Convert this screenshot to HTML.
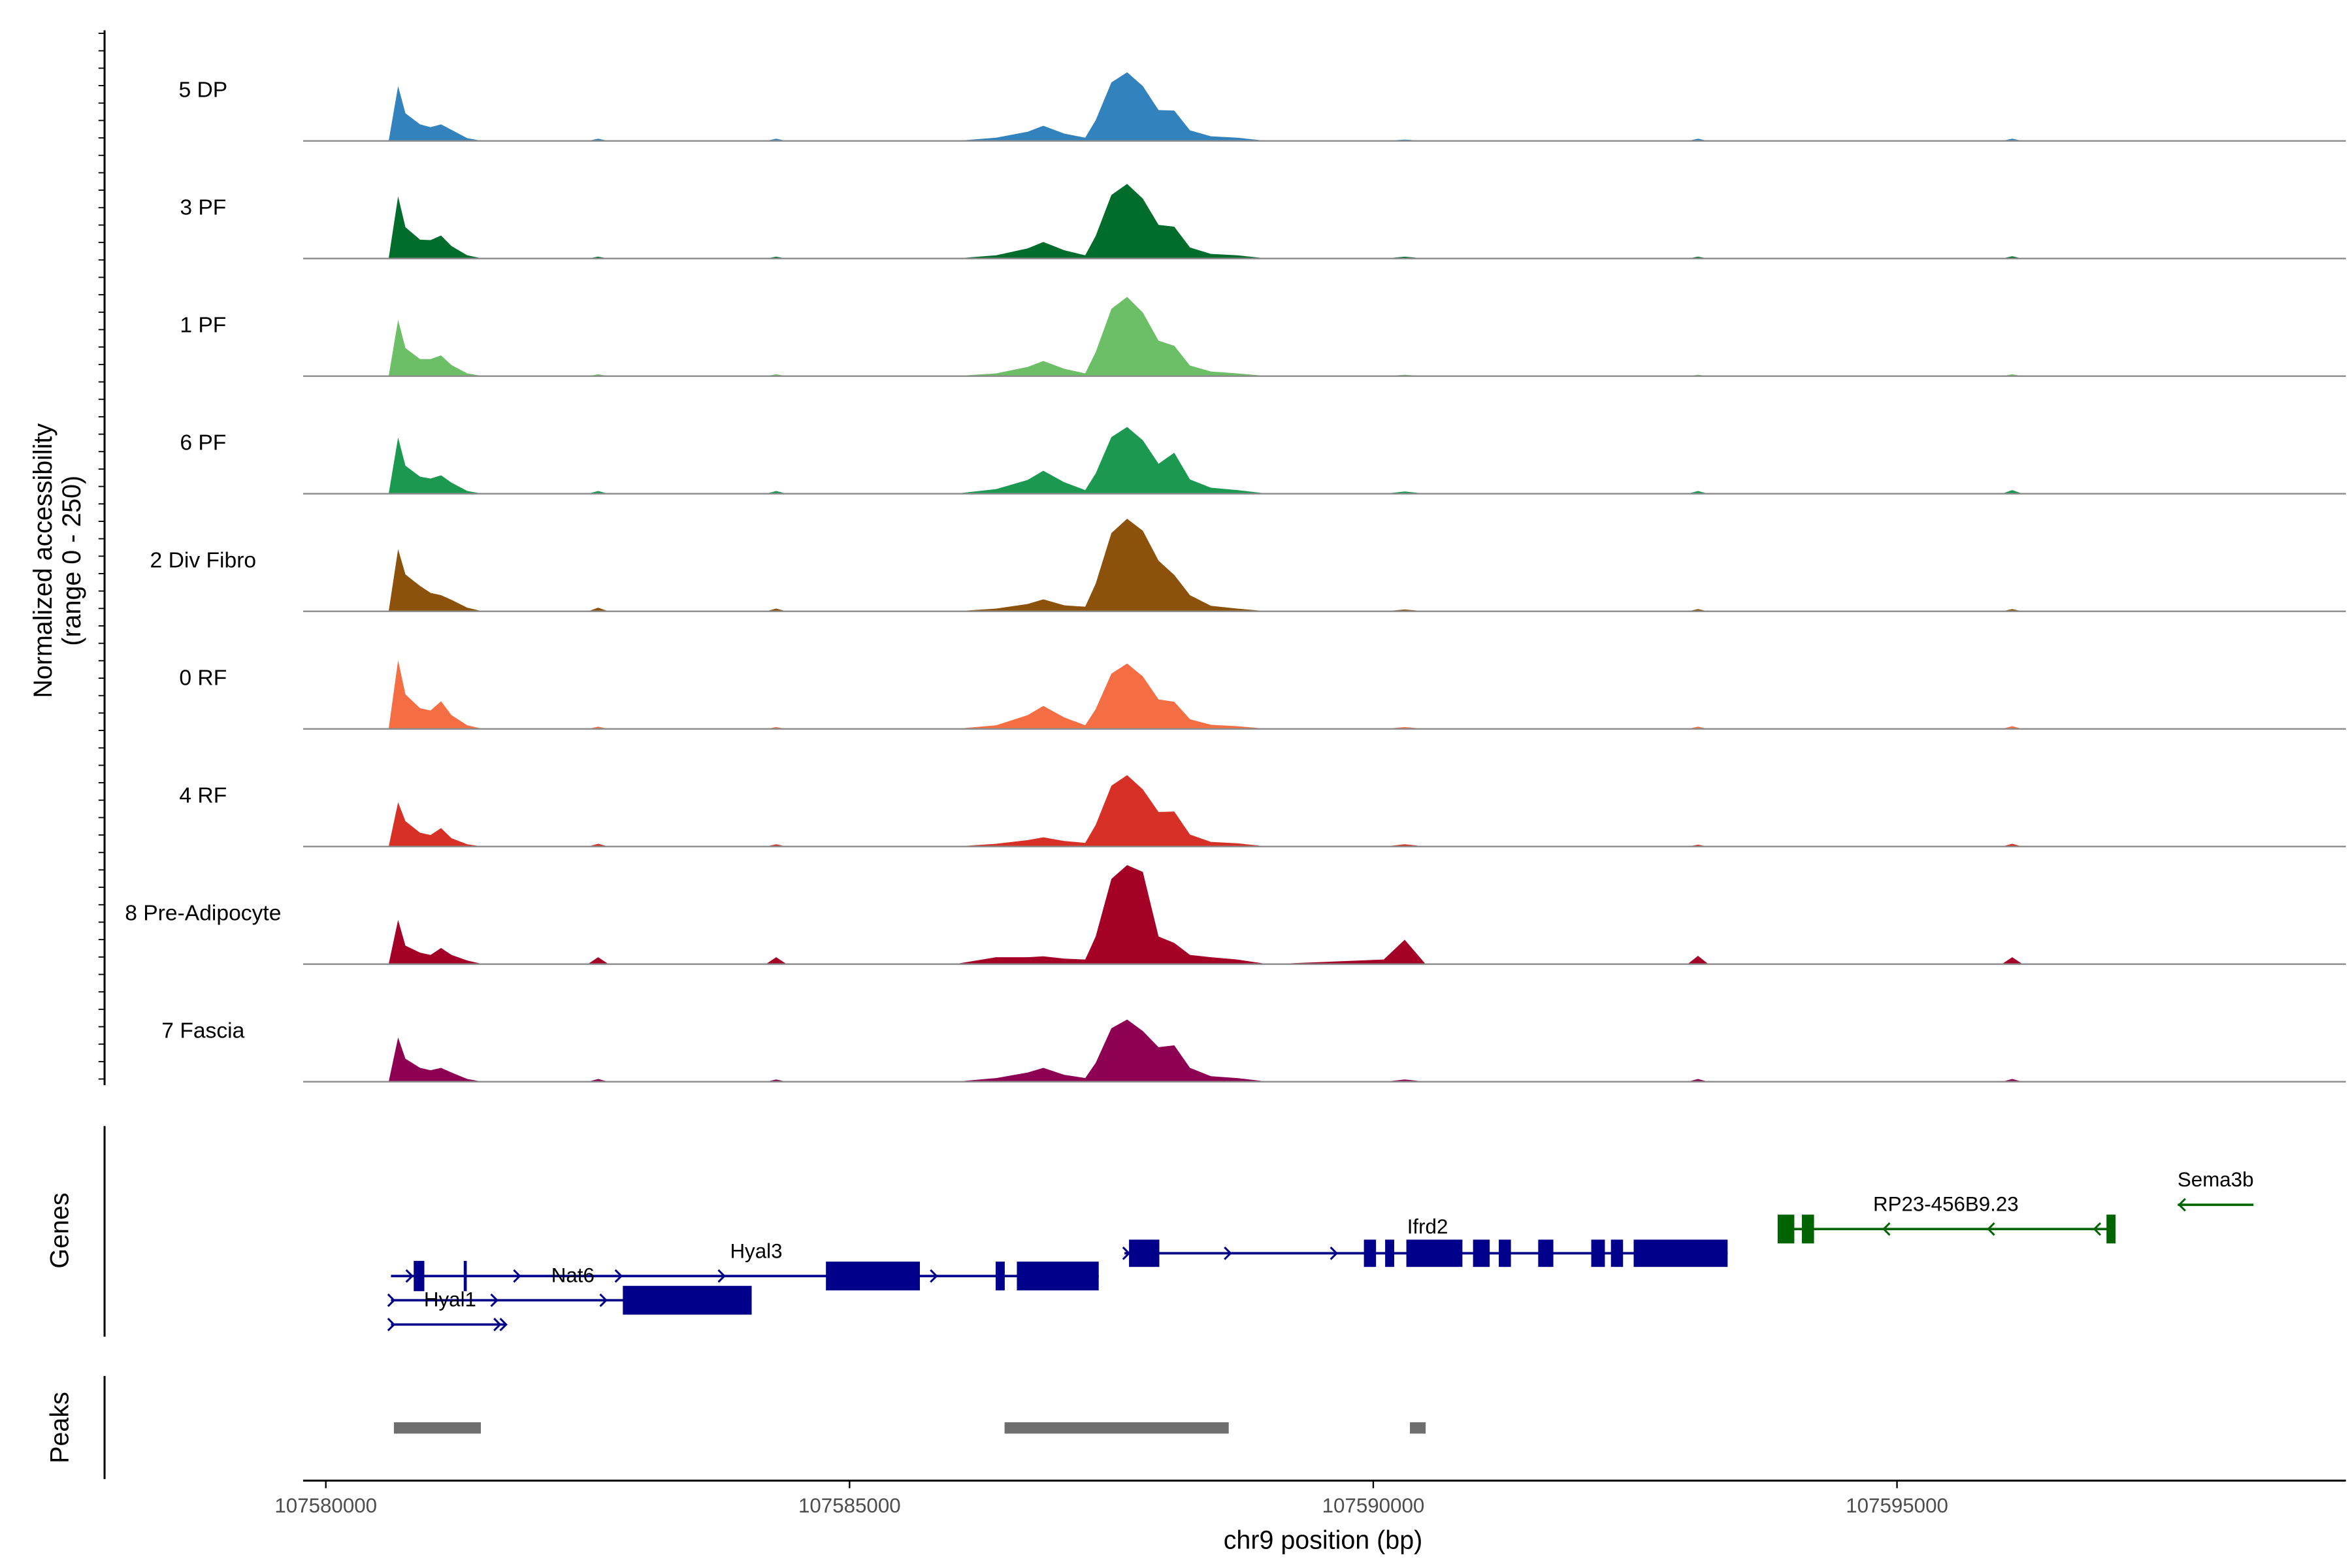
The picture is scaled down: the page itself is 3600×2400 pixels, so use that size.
<!DOCTYPE html>
<html><head><meta charset="utf-8"><style>html,body{margin:0;padding:0;background:#fff}svg{display:block}</style></head>
<body>
<svg id="chart" xmlns="http://www.w3.org/2000/svg" width="3600" height="2400" viewBox="0 0 1552 1034.67" font-family="Liberation Sans, sans-serif">
<rect width="1552" height="1034.67" fill="#fff"/>
<g id="tracks"></g>
<line x1="69" y1="20" x2="69" y2="716" stroke="#000" stroke-width="1.3"/>
<g id="yticks"></g>
<text transform="translate(34,370) rotate(-90)" text-anchor="middle" font-size="17">Normalized accessibility</text>
<text transform="translate(53,370) rotate(-90)" text-anchor="middle" font-size="17">(range 0 - 250)</text>
<line x1="69" y1="743" x2="69" y2="882" stroke="#000" stroke-width="1.3"/>
<text transform="translate(45,812) rotate(-90)" text-anchor="middle" font-size="17">Genes</text>
<line x1="69" y1="908" x2="69" y2="976" stroke="#000" stroke-width="1.3"/>
<text transform="translate(45,942) rotate(-90)" text-anchor="middle" font-size="17">Peaks</text>
<g id="genes"></g>
<g id="peaks"></g>
<line x1="200" y1="977" x2="1548" y2="977" stroke="#000" stroke-width="1.3"/>
<g id="xticks"></g>
<text x="873" y="1022" text-anchor="middle" font-size="17">chr9 position (bp)</text>
</svg>
<script>
const regionStart = 107579783;
const regionEnd = 107599286;
const xTickValues = [107580000, 107585000, 107590000, 107595000];
const trackNames = ["5 DP","3 PF","1 PF","6 PF","2 Div Fibro","0 RF","4 RF","8 Pre-Adipocyte","7 Fascia"];
const trackColors = ["#3182bd","#006d2c","#6cbf66","#1b9950","#8c510a","#f46d43","#d73027","#a50026","#8e0152"];
const binOffsets = [600,690,760,900,1000,1100,1200,1350,1500, 2500,2600,2700, 4200,4300,4400, 6000,6400,6700,6850,7050,7250,7350,7500,7650,7800,7950,8100,8250,8450,8700,9000, 10100,10300,10500, 13000,13100,13200, 16000,16100,16200];
const dp5 = [0,119,60,36,30,36,24,6,0, 0,5,0, 0,5,0, 0,7,20,33,16,7,45,127,149,119,67,66,23,10,7,0, 0,3,0, 0,5,0, 0,5,0];
const pf3 = [0,135,68,41,40,50,27,7,0, 0,4,0, 0,4,0, 0,7,22,36,18,7,49,138,162,130,73,69,24,10,7,0, 0,4,0, 0,4,0, 0,5,0];
const pf1 = [0,122,61,37,37,45,24,6,0, 0,4,0, 0,4,0, 0,6,20,33,16,6,52,146,172,138,77,66,23,10,6,0, 0,3,0, 0,3,0, 0,4,0];
const pf6 = [0,122,61,37,33,40,24,6,0, 0,6,0, 0,6,0, 0,10,30,50,25,8,44,123,145,116,65,89,31,13,8,0, 0,5,0, 0,6,0, 0,8,0];
const divFibro2 = [0,135,80,55,40,35,25,8,0, 0,8,0, 0,6,0, 0,6,16,26,13,10,60,170,201,175,110,79,35,12,6,0, 0,4,0, 0,5,0, 0,5,0];
const rf0 = [0,149,75,45,40,60,30,8,0, 0,5,0, 0,4,0, 0,8,30,50,25,8,43,120,142,114,64,59,21,9,6,0, 0,4,0, 0,5,0, 0,6,0];
const rf4 = [0,96,55,30,25,40,18,5,0, 0,6,0, 0,5,0, 0,6,14,20,12,8,47,132,155,124,75,76,26,10,7,0, 0,5,0, 0,4,0, 0,6,0];
const preAdipocyte8 = [0,96,40,25,20,35,20,8,0, 0,15,0, 0,15,0, 0,15,15,17,12,10,60,185,215,200,60,46,20,15,10,0, 10,53,0, 0,18,0, 0,15,0];
const fascia7 = [0,96,50,30,25,30,20,6,0, 0,6,0, 0,5,0, 0,8,20,30,15,8,41,116,135,110,75,79,30,12,8,0, 0,5,0, 0,6,0, 0,6,0];
const trackValues = [dp5,pf3,pf1,pf6,divFibro2,rf0,rf4,preAdipocyte8,fascia7];
const peakStarts = [107580650, 107586480, 107590350];
const peakEnds = [107581480, 107588620, 107590500];

const NS = "http://www.w3.org/2000/svg";
const X0 = 200, X1 = 1548;
function xScale(bp){ return X0 + (bp - regionStart) / (regionEnd - regionStart) * (X1 - X0); }
function yScale(v, base){ return base - v / 250 * 76; }
function mk(tag, attrs, parent){ const e = document.createElementNS(NS, tag); for (const k in attrs) e.setAttribute(k, attrs[k]); parent.appendChild(e); return e; }

const tracksG = document.getElementById('tracks');
trackNames.forEach((name, i) => {
  const base = 93 + i * 77.6;
  const g = mk('g', {}, tracksG);
  
  
  const vals = trackValues[i];
  let d = 'M' + xScale(107580000 + binOffsets[0]) + ',' + base;
  binOffsets.forEach((o, j) => { d += ' L' + xScale(107580000 + o).toFixed(2) + ',' + yScale(vals[j], base).toFixed(2); });
  d += ' L' + xScale(107580000 + binOffsets[binOffsets.length-1]) + ',' + base + ' Z';
  const p = mk('path', {d: d, fill: trackColors[i]}, g);
  
  
  const bl = mk('line', {x1: X0, x2: X1, y1: base, y2: base, stroke: '#8a8a8a', 'stroke-width': 1}, g);
  
  
  const t = mk('text', {x: 134, y: base - 29, 'text-anchor': 'middle', 'font-size': 14.5}, g);
  t.textContent = name;
  
  
});

const yt = document.getElementById('yticks');
for (let y = 22; y <= 716; y += 11.5) {
  const l = mk('line', {x1: 65, x2: 69, y1: y, y2: y, stroke: '#000', 'stroke-width': 0.8}, yt);
  
  
}

const xt = document.getElementById('xticks');
xTickValues.forEach(v => {
  const x = xScale(v);
  const l = mk('line', {x1: x, x2: x, y1: 977, y2: 982, stroke: '#000', 'stroke-width': 1}, xt);
  
  
  const t = mk('text', {x: x, y: 998, 'text-anchor': 'middle', 'font-size': 13.5, fill: '#4d4d4d'}, xt);
  t.textContent = v;
  
  
});

const pg = document.getElementById('peaks');
peakStarts.forEach((s, i) => {
  const r = mk('rect', {x: xScale(s), y: 938.5, width: xScale(peakEnds[i]) - xScale(s), height: 7.5, fill: '#6e6e6e'}, pg);
  
  
});

const gg = document.getElementById('genes');
const blue = '#00008b', green = '#006400';
function gene(name, y, x1, x2, exons, col, h, arrows, dir, label, lx, ly) {
  const g = mk('g', {}, gg);
  
  
  mk('line', {x1: x1, x2: x2, y1: y, y2: y, stroke: col, 'stroke-width': 1.6}, g);
  exons.forEach(e => mk('rect', {x: e[0], y: y - (e[2]||h)/2, width: e[1]-e[0], height: (e[2]||h), fill: col}, g));
  arrows.forEach(a => {
    const s = dir > 0 ? -1 : 1;
    mk('path', {d: `M${a + s*4},${y-4} L${a},${y} L${a + s*4},${y+4}`, fill: 'none', stroke: col, 'stroke-width': 1.3}, g);
  });
  if (label) { const t = mk('text', {x: lx, y: ly, 'text-anchor': 'middle', 'font-size': 13.5}, g); t.textContent = label; }
}
gene('ifrd2', 827, 742, 1140, [[745,765],[900,908],[914,920],[928,965],[972,983],[989,997],[1015,1025],[1050,1059],[1063,1071],[1078,1140]], blue, 18, [745,812,882], 1, 'Ifrd2', 942, 814);
gene('hyal3', 842, 258, 725, [[273,280,20],[306,308,20],[545,607],[657,663],[671,725]], blue, 19, [272,343,410,478,618], 1, 'Hyal3', 499, 830);
gene('nat6', 858, 258, 496, [[411,496]], blue, 19, [260,328,400], 1, 'Nat6', 378, 846);
gene('hyal1', 874, 258, 334, [], blue, 18, [260,330,334], 1, 'Hyal1', 297, 862);
gene('rp23-456b9-23', 811, 1175, 1393, [[1173,1184,19],[1189,1197,19],[1390,1396,19]], green, 19, [1243,1312,1382], -1, 'RP23-456B9.23', 1284, 799);
gene('sema3b', 795, 1437, 1487, [], green, 10, [1438], -1, 'Sema3b', 1462, 783);
</script>
</body></html>
